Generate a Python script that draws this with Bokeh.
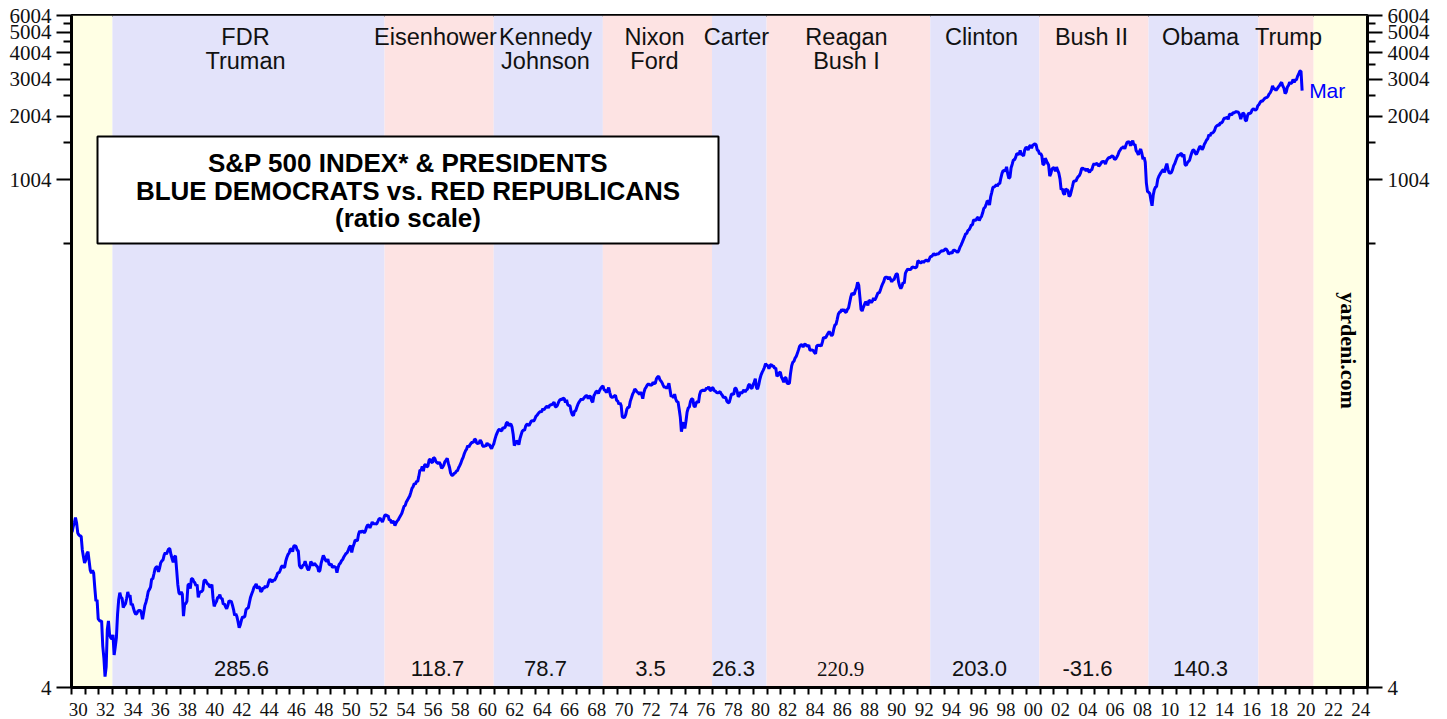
from math import pi
import math
from bokeh.plotting import figure
from bokeh.models import (Range1d, FixedTicker, LogAxis, CustomJSTickFormatter,
                          Label, BoxAnnotation, ColumnDataSource)
from bokeh.embed import file_html
from bokeh.resources import INLINE

# ---------------- DATA (S&P 500 index, monthly, Jan 1930 .. Mar 2020) ----------------
spx_1930s = [
    21.71, 23.07, 23.94, 25.46, 23.94, 21.52, 21.06, 20.79, 20.78, 17.92, 16.62, 15.51,
    15.98, 17.20, 17.53, 15.86, 14.33, 13.87, 14.33, 13.90, 11.83, 10.25, 10.39, 8.44,
    8.30, 8.23, 8.26, 6.28, 5.51, 4.50, 5.01, 7.53, 8.26, 7.12, 6.87, 6.78,
    7.09, 5.70, 6.23, 6.89, 8.87, 10.39, 11.23, 10.67, 10.58, 9.55, 9.78, 9.97,
    10.54, 11.32, 10.74, 10.92, 9.81, 9.94, 9.47, 9.10, 8.88, 8.95, 9.20, 9.26,
    9.26, 8.98, 8.41, 9.04, 9.75, 10.12, 10.65, 11.37, 11.61, 11.92, 13.04, 13.04,
    13.76, 14.55, 14.86, 14.88, 14.09, 14.69, 15.56, 15.87, 16.05, 16.89, 17.36, 17.06,
    17.59, 18.11, 18.09, 17.01, 16.25, 15.64, 16.57, 16.74, 14.37, 12.28, 11.20, 11.02,
    11.31, 11.04, 8.70, 9.89, 9.98, 10.21, 12.24, 12.31, 11.75, 13.06, 13.07, 12.69,
    12.50, 12.13, 12.25, 10.67, 11.20, 11.33, 11.36, 11.54, 12.77, 12.90, 12.67, 12.37,
]
spx_1940s = [
    12.30, 11.97, 12.00, 12.27, 10.58, 9.67, 9.99, 10.20, 10.63, 10.73, 10.98, 10.53,
    10.55, 9.89, 9.95, 9.64, 9.43, 9.76, 10.26, 10.21, 10.24, 9.83, 9.37, 8.76,
    8.93, 8.65, 8.18, 7.66, 7.93, 8.33, 8.64, 8.59, 8.68, 9.32, 9.47, 9.52,
    10.09, 10.69, 11.07, 11.44, 11.89, 12.10, 12.35, 11.74, 11.99, 11.88, 11.33, 11.48,
    11.85, 11.77, 12.10, 11.89, 12.10, 12.67, 13.00, 12.81, 12.60, 12.91, 12.82, 13.10,
    13.49, 13.94, 13.93, 14.28, 14.82, 15.09, 14.78, 14.83, 15.84, 16.50, 17.04, 17.33,
    18.02, 18.07, 17.53, 18.66, 18.70, 18.58, 17.83, 17.70, 15.09, 14.75, 14.69, 15.13,
    15.21, 15.80, 15.16, 14.60, 14.34, 14.84, 15.77, 15.46, 15.06, 15.45, 15.27, 15.03,
    14.83, 14.10, 14.30, 15.40, 16.15, 16.82, 16.42, 15.94, 15.76, 16.19, 15.29, 15.19,
    15.36, 14.77, 14.91, 14.89, 14.78, 13.97, 14.76, 15.29, 15.49, 15.89, 16.11, 16.54,
]
spx_1950s = [
    16.88, 17.21, 17.35, 17.84, 18.44, 18.74, 17.38, 18.43, 19.08, 19.87, 19.83, 19.75,
    21.21, 22.00, 21.63, 21.92, 21.93, 21.55, 21.93, 22.89, 23.48, 23.36, 22.71, 23.41,
    24.19, 23.75, 23.81, 23.74, 23.73, 24.38, 25.08, 25.18, 24.78, 24.26, 25.03, 26.04,
    26.18, 25.86, 25.99, 24.71, 24.84, 23.95, 24.29, 24.39, 23.27, 23.97, 24.50, 24.83,
    25.46, 26.02, 26.57, 27.63, 28.73, 28.96, 30.13, 30.73, 31.45, 32.18, 33.44, 34.97,
    35.60, 36.79, 36.50, 37.76, 37.60, 39.78, 42.69, 42.43, 44.34, 42.11, 44.95, 45.37,
    44.15, 44.43, 47.49, 48.05, 46.54, 46.27, 48.78, 48.49, 46.84, 46.24, 45.76, 46.44,
    45.43, 43.47, 44.03, 45.05, 46.78, 47.55, 48.51, 45.84, 43.98, 41.24, 40.35, 40.33,
    41.12, 41.26, 42.11, 42.34, 43.70, 44.75, 45.98, 47.70, 48.96, 50.95, 52.50, 53.49,
    55.62, 54.77, 56.15, 57.10, 57.96, 57.46, 59.74, 59.40, 57.05, 57.00, 57.23, 59.06,
]
spx_1960s = [
    58.03, 55.78, 55.02, 55.73, 55.22, 57.26, 55.84, 56.51, 54.81, 53.73, 55.47, 56.80,
    59.72, 62.17, 64.12, 65.83, 66.50, 65.62, 65.44, 67.79, 67.26, 68.00, 71.08, 71.74,
    69.07, 70.22, 70.29, 68.05, 62.99, 55.63, 56.97, 58.52, 58.00, 56.17, 60.04, 62.64,
    65.06, 65.92, 65.67, 68.76, 70.14, 70.11, 69.07, 70.98, 72.85, 73.03, 72.62, 74.17,
    76.45, 77.39, 78.80, 79.94, 80.72, 80.24, 83.22, 82.00, 83.41, 84.85, 85.44, 83.96,
    86.12, 86.75, 86.83, 87.97, 89.28, 85.04, 84.91, 86.49, 89.38, 91.39, 92.15, 91.73,
    93.32, 92.69, 88.88, 91.60, 86.78, 86.06, 85.84, 80.65, 77.81, 77.13, 80.99, 81.33,
    84.45, 87.36, 89.42, 90.96, 92.59, 91.43, 93.01, 94.49, 95.81, 95.66, 92.66, 95.30,
    95.04, 90.75, 89.09, 95.67, 97.87, 100.53, 100.30, 98.11, 101.34, 103.76, 105.40, 106.48,
    102.04, 101.46, 99.30, 101.26, 104.62, 99.14, 94.71, 94.18, 94.51, 95.52, 96.21, 91.11,
]
spx_1970s = [
    90.31, 87.16, 88.65, 85.95, 76.06, 75.59, 75.72, 77.92, 82.58, 84.37, 84.28, 90.05,
    93.49, 97.11, 99.60, 103.04, 101.64, 99.72, 99.00, 97.24, 99.40, 97.29, 92.78, 99.17,
    103.30, 105.24, 107.69, 108.81, 107.65, 108.01, 107.21, 111.01, 109.39, 109.56, 115.05, 117.50,
    118.42, 114.16, 112.42, 110.27, 107.22, 104.75, 105.83, 103.80, 105.61, 109.84, 102.03, 94.78,
    96.11, 93.45, 97.44, 92.46, 89.67, 89.79, 82.82, 76.03, 64.80, 69.44, 71.74, 67.07,
    72.56, 80.10, 83.78, 84.72, 90.10, 92.40, 92.49, 85.71, 84.67, 88.57, 90.07, 88.70,
    96.86, 100.64, 101.08, 101.93, 101.16, 101.77, 104.20, 103.29, 105.45, 101.89, 101.19, 104.66,
    103.81, 100.96, 100.57, 99.05, 98.76, 99.29, 100.18, 97.75, 96.23, 93.74, 94.28, 93.82,
    90.25, 88.98, 88.82, 92.71, 97.41, 97.66, 97.19, 103.92, 103.86, 100.58, 94.71, 96.11,
    99.71, 98.23, 100.11, 102.07, 99.73, 101.73, 102.71, 107.36, 108.60, 104.47, 103.66, 107.78,
]
spx_1980s = [
    110.87, 115.34, 104.69, 102.97, 107.69, 114.55, 119.83, 123.50, 126.51, 130.22, 135.65, 133.48,
    132.97, 128.40, 133.19, 134.43, 131.73, 132.28, 129.13, 129.63, 118.27, 119.80, 122.92, 123.79,
    117.28, 114.50, 110.84, 116.31, 116.35, 109.70, 109.38, 109.65, 122.43, 132.66, 138.10, 139.37,
    144.27, 146.80, 151.88, 157.71, 164.10, 166.39, 166.96, 162.42, 167.16, 167.65, 165.23, 164.36,
    166.39, 157.25, 157.44, 157.60, 156.55, 153.12, 151.08, 164.42, 166.11, 164.82, 166.27, 164.48,
    171.61, 180.88, 179.42, 180.62, 184.90, 188.89, 192.54, 188.31, 184.06, 186.18, 197.45, 207.26,
    208.19, 219.37, 232.33, 237.98, 238.46, 245.30, 240.18, 245.00, 238.27, 237.36, 245.09, 248.61,
    264.51, 280.93, 292.47, 289.32, 289.12, 301.38, 310.09, 329.36, 318.66, 280.16, 245.01, 240.96,
    250.48, 258.13, 265.74, 262.61, 256.12, 270.68, 269.05, 263.73, 267.97, 277.40, 271.02, 276.51,
    285.41, 294.01, 292.71, 302.25, 313.93, 323.73, 331.93, 346.61, 347.33, 347.40, 340.22, 348.57,
]
spx_1990s = [
    339.97, 330.45, 338.47, 338.18, 350.25, 360.39, 360.03, 330.75, 315.41, 307.12, 315.29, 328.75,
    325.49, 362.26, 372.28, 379.68, 377.99, 378.29, 380.23, 389.40, 387.20, 386.88, 385.92, 388.51,
    416.08, 412.56, 407.36, 407.41, 414.81, 408.27, 415.05, 417.93, 418.48, 412.50, 422.84, 435.64,
    435.23, 441.70, 450.16, 443.08, 445.25, 448.06, 447.29, 454.13, 459.24, 463.90, 462.89, 465.95,
    472.99, 471.58, 463.81, 447.23, 450.90, 454.83, 451.40, 464.24, 466.96, 463.81, 461.01, 455.19,
    465.25, 481.92, 493.15, 507.91, 523.81, 539.35, 557.37, 559.11, 578.77, 582.92, 595.53, 614.57,
    614.42, 649.54, 647.07, 647.17, 661.23, 668.50, 644.07, 662.68, 674.88, 701.46, 735.67, 743.25,
    766.22, 798.39, 792.16, 763.93, 833.09, 876.29, 925.29, 927.74, 937.02, 951.16, 938.92, 962.37,
    963.36, 1023.7, 1076.8, 1112.2, 1108.4, 1108.4, 1156.6, 1074.6, 1020.6, 1032.5, 1144.4, 1190.1,
    1248.8, 1246.6, 1281.7, 1334.8, 1332.1, 1322.6, 1381.0, 1327.5, 1318.2, 1300.0, 1391.0, 1428.7,
]
spx_2000s = [
    1425.6, 1388.9, 1442.2, 1461.4, 1418.5, 1461.9, 1473.0, 1485.5, 1468.1, 1390.1, 1378.0, 1330.9,
    1335.8, 1305.8, 1185.9, 1189.8, 1270.4, 1238.7, 1204.5, 1178.5, 1044.6, 1076.6, 1129.7, 1144.9,
    1140.2, 1100.7, 1153.8, 1112.0, 1079.3, 1014.0, 903.6, 912.6, 867.8, 854.6, 909.9, 899.2,
    895.8, 837.6, 846.6, 890.0, 936.0, 988.0, 992.5, 989.5, 1019.4, 1038.7, 1049.9, 1080.6,
    1132.5, 1143.4, 1124.0, 1133.1, 1102.8, 1132.8, 1105.9, 1088.9, 1117.7, 1118.1, 1168.9, 1199.2,
    1181.4, 1199.6, 1194.9, 1164.4, 1178.3, 1202.3, 1222.2, 1224.3, 1225.9, 1191.3, 1237.4, 1262.1,
    1278.7, 1276.6, 1293.7, 1302.2, 1290.0, 1253.1, 1260.2, 1287.2, 1317.8, 1363.4, 1388.6, 1416.4,
    1424.2, 1444.8, 1406.8, 1463.6, 1511.1, 1514.5, 1520.7, 1454.6, 1497.1, 1539.7, 1463.4, 1479.2,
    1378.8, 1354.9, 1316.9, 1370.5, 1403.2, 1341.3, 1257.3, 1281.5, 1217.0, 968.8, 883.0, 877.6,
    865.6, 805.2, 757.1, 848.2, 902.4, 926.1, 935.8, 1009.7, 1044.6, 1067.7, 1088.1, 1110.4,
]
spx_2010s = [
    1123.6, 1089.2, 1152.0, 1197.3, 1125.1, 1083.4, 1079.8, 1087.3, 1122.1, 1171.6, 1198.9, 1241.5,
    1282.6, 1321.1, 1304.5, 1331.5, 1338.3, 1287.3, 1325.2, 1185.3, 1173.9, 1207.2, 1226.4, 1243.3,
    1300.6, 1352.5, 1389.2, 1386.4, 1341.3, 1323.5, 1359.8, 1403.4, 1443.4, 1437.8, 1394.5, 1422.3,
    1480.4, 1512.3, 1550.8, 1570.7, 1639.8, 1618.8, 1668.7, 1670.1, 1687.2, 1720.0, 1783.5, 1807.8,
    1822.4, 1817.0, 1863.5, 1864.3, 1889.8, 1947.1, 1973.1, 1961.5, 1993.2, 1937.3, 2044.6, 2054.3,
    2028.2, 2082.2, 2080.0, 2094.1, 2111.9, 2099.3, 2094.1, 2039.9, 1944.4, 2024.8, 2080.6, 2054.1,
    1918.6, 1904.4, 2022.0, 2075.5, 2065.6, 2083.9, 2148.9, 2177.5, 2157.7, 2143.0, 2165.0, 2246.6,
    2275.1, 2329.9, 2366.8, 2359.3, 2395.4, 2433.9, 2454.1, 2456.2, 2492.8, 2557.0, 2593.6, 2664.3,
    2789.8, 2705.2, 2702.8, 2653.6, 2701.5, 2754.4, 2793.6, 2857.8, 2901.5, 2785.5, 2723.2, 2567.3,
    2607.4, 2754.9, 2803.9, 2903.8, 2854.7, 2890.2, 2996.1, 2897.5, 2982.2, 2977.7, 3104.9, 3176.7,
]
spx_2020s = [3278.2, 3277.3, 2652.4]

# presidential terms (start years of each band)
band_start = [1930.0, 1933.0, 1952.95, 1960.95, 1968.95, 1976.95, 1980.95,
              1992.95, 2000.95, 2008.95, 2017.0, 2021.05]
band_end = band_start[1:] + [2025.0]
band_party = ["none", "D", "R", "D", "R", "D", "R", "D", "R", "D", "R", "none"]

pres_line1 = ["FDR", "Eisenhower", "Kennedy", "Nixon", "Carter", "Reagan",
              "Clinton", "Bush II", "Obama", "Trump"]
pres_line2 = ["Truman", "", "Johnson", "Ford", "", "Bush I", "", "", "", ""]
gains = ["285.6", "118.7", "78.7", "3.5", "26.3", "220.9", "203.0", "-31.6", "140.3"]

y_ticks = [4, 1004, 2004, 3004, 4004, 5004, 6004]
y_minor = [504, 1504, 2504, 3504, 4504, 5504]
x_label_years = list(range(1930, 2025, 2))
x_minor_years = list(range(1930, 2026))

# ---------------- LAYOUT (page pixel positions of annotations) ----------------
pres_px = [245, 435, 545, 654, 736, 846, 981, 1091, 1200, 1288]
gain_px = [241, 437, 545, 650, 733, 840, 979, 1087, 1200]

X0, X1, Y0, Y1 = 1930.0, 2025.0, 4.0, 6004.0
FL, FW, FT, FH = 71.0, 1296.0, 15.0, 672.0   # frame on page


def X(px):
    return X0 + (px - FL) / FW * (X1 - X0)


def Y(py):
    frac = (FT + FH - py) / FH
    return Y0 * 10 ** (frac * math.log10(Y1 / Y0))


values = spx_1930s + spx_1940s + spx_1950s + spx_1960s + spx_1970s + \
    spx_1980s + spx_1990s + spx_2000s + spx_2010s + spx_2020s
dates = [1930 + (i + 0.5) / 12 for i in range(len(values))]

SANS = "Liberation Sans"
SERIF = "Liberation Serif"

p = figure(width=1440, height=719, x_range=Range1d(X0, X1), y_range=Range1d(Y0, Y1),
           y_axis_type="log", output_backend="svg", toolbar_location=None,
           min_border_left=71, min_border_right=73, min_border_top=15, min_border_bottom=32)
p.grid.visible = False
p.background_fill_color = "white"
p.border_fill_color = "white"
p.outline_line_color = "black"
p.outline_line_width = 3
p.outline_line_alpha = 1

# bands
party_color = {"D": "#E3E3FA", "R": "#FDE3E3", "none": "#FFFFE4"}
bsrc = ColumnDataSource(dict(left=band_start, right=band_end,
                             color=[party_color[b] for b in band_party]))
p.quad(left="left", right="right", bottom=Y0, top=Y1, color="color", line_width=0, source=bsrc)

# index line
p.line(dates, values, line_width=3, color="#0000FF")

# axes
yt = FixedTicker(ticks=y_ticks, minor_ticks=y_minor)
yfmt = CustomJSTickFormatter(code="return tick.toFixed(0);")


def style_y(ax):
    ax.ticker = yt
    ax.formatter = yfmt
    ax.major_tick_out = 15
    ax.major_tick_in = 0
    ax.minor_tick_out = 8
    ax.minor_tick_in = 0
    ax.major_tick_line_width = 2
    ax.minor_tick_line_width = 2
    ax.major_tick_line_color = "black"
    ax.minor_tick_line_color = "black"
    ax.axis_line_color = "black"
    ax.axis_line_width = 3
    ax.major_label_standoff = 5
    ax.major_label_text_font = SERIF
    ax.major_label_text_font_size = "21px"
    ax.major_label_text_color = "#111111"


style_y(p.yaxis[0])
ry = LogAxis()
style_y(ry)
p.add_layout(ry, "right")

xa = p.xaxis[0]
xa.ticker = FixedTicker(ticks=[y + 0.5 for y in x_label_years], minor_ticks=x_minor_years)
xa.formatter = CustomJSTickFormatter(
    code="var v = Math.floor(tick) % 100; return (v < 10 ? '0' : '') + v;")
xa.major_tick_out = 0
xa.major_tick_in = 0
xa.minor_tick_out = 7
xa.minor_tick_in = 0
xa.minor_tick_line_width = 2
xa.minor_tick_line_color = "black"
xa.axis_line_color = "black"
xa.axis_line_width = 3
xa.major_label_standoff = 8
xa.major_label_text_font = SERIF
xa.major_label_text_font_size = "19px"
xa.major_label_text_color = "#111111"

# president names
for name, px in zip(pres_line1, pres_px):
    p.add_layout(Label(x=X(px), y=Y(36), text=name, text_align="center",
                       text_baseline="middle", text_font=SANS,
                       text_font_size="23.5px", text_color="#111111"))
for name, px in zip(pres_line2, pres_px):
    if name:
        p.add_layout(Label(x=X(px), y=Y(60), text=name, text_align="center",
                           text_baseline="middle", text_font=SANS,
                           text_font_size="23.5px", text_color="#111111"))

# gains
for g, px in zip(gains, gain_px):
    serif = g == "220.9"
    p.add_layout(Label(x=X(px), y=Y(668), text=g, text_align="center",
                       text_baseline="middle",
                       text_font=SERIF if serif else SANS,
                       text_font_size="21px" if serif else "22px", text_color="#111111"))

# title box
p.add_layout(BoxAnnotation(left=X(97), right=X(718), top=Y(136), bottom=Y(243),
                           fill_color="white", fill_alpha=1.0,
                           line_color="black", line_width=2, line_alpha=1.0))
for txt, py in [("S&P 500 INDEX* & PRESIDENTS", 162),
                ("BLUE DEMOCRATS vs. RED REPUBLICANS", 190),
                ("(ratio scale)", 217)]:
    p.add_layout(Label(x=X(407.5), y=Y(py), text=txt, text_align="center",
                       text_baseline="middle", text_font=SANS, text_font_style="bold",
                       text_font_size="26px", text_color="black"))

# last-month label
p.add_layout(Label(x=dates[-1], y=values[-1], text="Mar", x_offset=7,
                   text_baseline="middle", text_font=SANS, text_font_size="21px",
                   text_color="#0000FF"))

# source
p.add_layout(Label(x=X(1348), y=Y(350), text="yardeni.com", angle=-pi / 2,
                   text_align="center", text_baseline="middle", text_font=SERIF,
                   text_font_style="bold", text_font_size="22px", text_color="black"))

open("out.html", "w").write(file_html(p, INLINE))
